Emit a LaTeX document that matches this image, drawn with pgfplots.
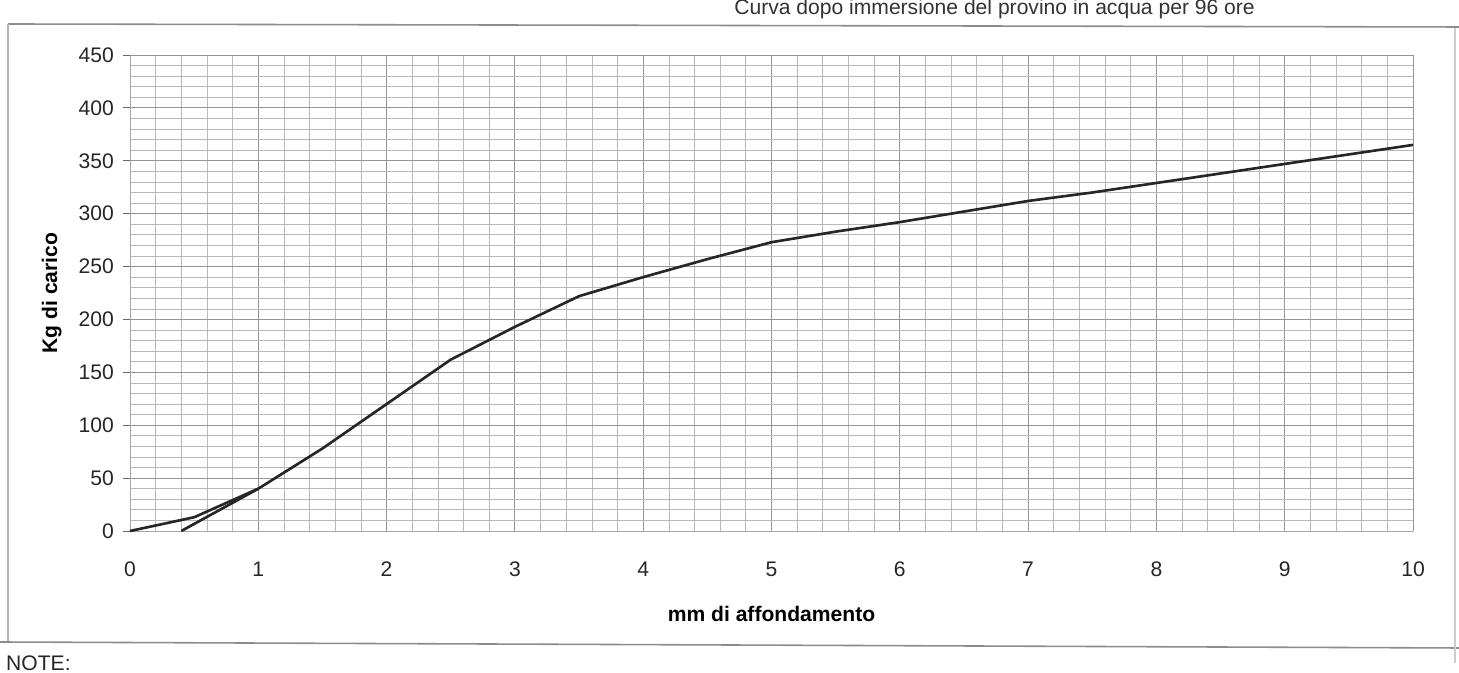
\documentclass[border=0pt]{standalone}
\usepackage{pgfplots}
\pgfplotsset{compat=1.18}
\usepackage{fontspec}
\setmainfont{Liberation Sans}
\begin{document}
\begin{tikzpicture}
% frame of the sheet
\draw[black!45, line width=0.9pt] (0.16cm,12.98cm) -- (29.18cm,12.92cm);
\draw[black!30, line width=0.9pt] (0.16cm,12.98cm) -- (0.16cm,0.6cm);
\draw[black!45, line width=0.9pt] (0cm,0.62cm) -- (29.18cm,0.50cm);
\draw[black!20, line width=0.8pt] (29.10cm,12.9cm) -- (29.10cm,0.2cm);
\node[anchor=base east, font=\fontsize{12}{14}\selectfont, text=black!80] at (25.22cm,13.16cm) {Curva dopo immersione del provino in acqua per 96 ore};
\node[anchor=base west, font=\fontsize{12}{14}\selectfont, text=black!85] at (0cm,0.05cm) {NOTE:};
\begin{axis}[
  at={(2.6cm,2.84cm)}, anchor=south west,
  scale only axis, width=25.66cm, height=9.52cm,
  xmin=0, xmax=10, ymin=0, ymax=450,
  xtick={0,1,...,10}, ytick={0,50,...,450},
  minor x tick num=4, minor y tick num=4,
  grid=both,
  major grid style={black!42, line width=0.5pt},
  minor grid style={black!28, line width=0.4pt},
  axis line style={draw=black!35, line width=0.5pt},
  axis x line*=bottom, axis y line*=left,
  xtick style={draw=none},
  ytick style={black!60, line width=0.5pt},
  minor tick length=0pt, major tick length=0.15cm,
  tick align=outside,
  tick label style={font=\fontsize{12}{14}\selectfont, text=black!85},
  xticklabel style={yshift=-0.35cm},
  yticklabel style={xshift=-0.05cm},
  /pgf/number format/assume math mode=true,
  xlabel={\textbf{mm di affondamento}},
  ylabel={\textbf{Kg di carico}},
  xlabel style={font=\fontsize{12}{14}\selectfont, yshift=-0.35cm},
  ylabel style={font=\fontsize{12}{14}\selectfont, yshift=0.1cm},
  clip=false,
]
\addplot[black!85, line width=1.5pt] coordinates {
 (0,0) (0.5,13) (1,40) (1.5,78) (2,120) (2.5,162) (3,193) (3.5,222)
 (4,240) (4.5,257) (5,273) (5.5,283) (6,292) (6.5,302) (7,312)
 (7.5,320) (8,329) (8.5,338) (9,347) (9.5,356) (10,365)
};
\addplot[black!85, line width=1.5pt] coordinates {(0.4,0) (1.0,40)};
\end{axis}
\pgfresetboundingbox
\path (0,0) rectangle (29.18cm,13.46cm);
\end{tikzpicture}
\end{document}
